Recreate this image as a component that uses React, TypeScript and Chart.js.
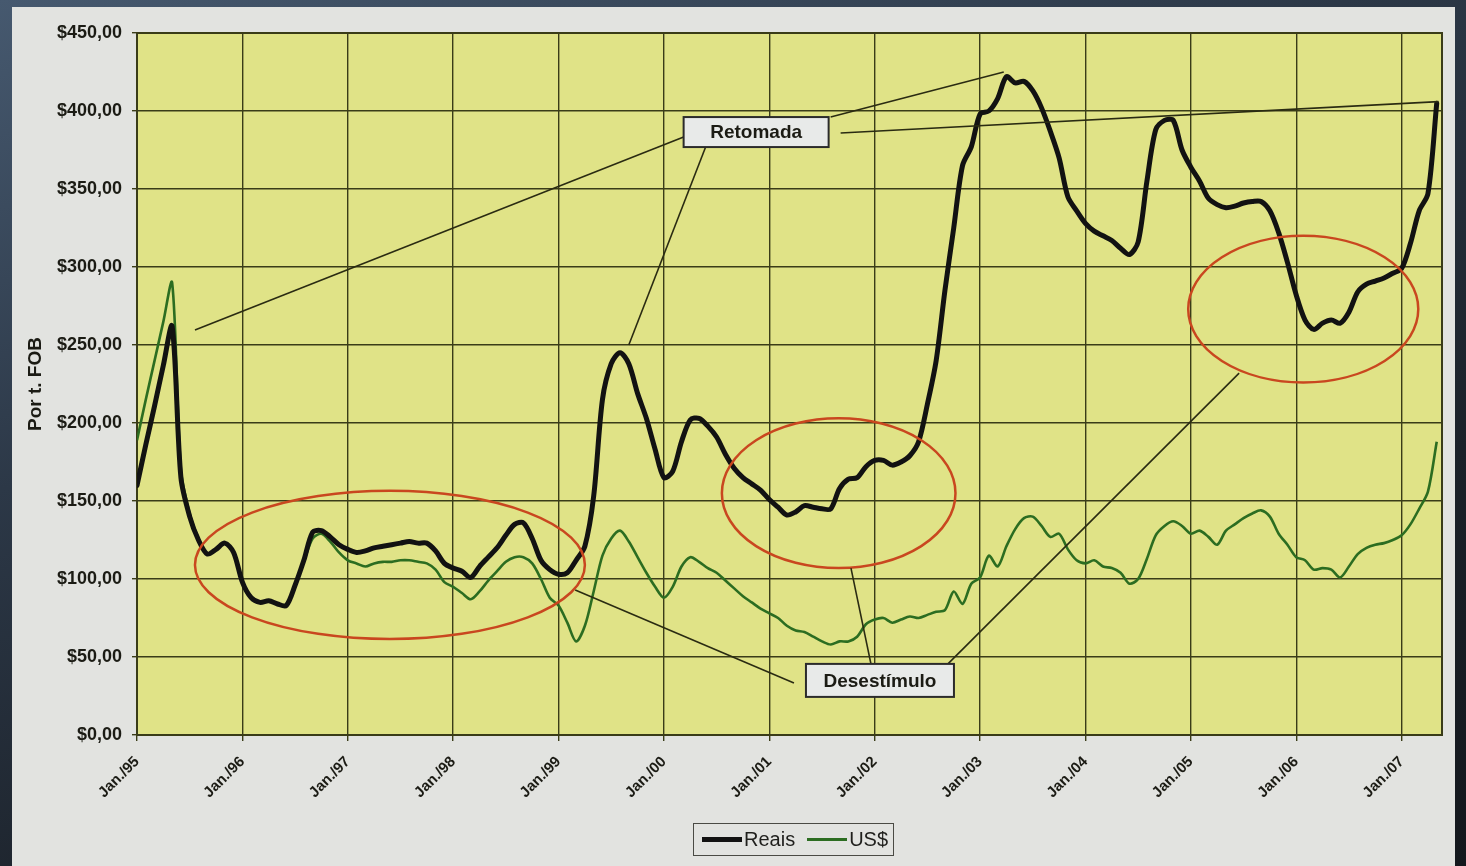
import React, { useEffect, useRef } from "react";
import { Chart, registerables } from "chart.js";

Chart.register(...registerables);

// Monthly FOB price per tonne, Jan/95 .. May/07 (index 0 = Jan/95)
const reaisValues = [
  160, 186, 211, 237, 262, 165, 140, 125, 116, 119, 123, 117, // 1995
  98, 88, 85, 86, 84, 83, 96, 112, 130, 131, 127, 122, // 1996
  119, 117, 118, 120, 121, 122, 123, 124, 123, 123, 118, 110, // 1997
  107, 105, 101, 108, 114, 120, 128, 135, 136, 126, 112, 106, // 1998
  103, 104, 112, 121, 153, 215, 238, 245, 238, 219, 203, 183, // 1999
  165, 169, 188, 202, 203, 198, 191, 180, 171, 165, 161, 157, // 2000
  151, 146, 141, 143, 147, 146, 145, 145, 158, 164, 165, 172, // 2001
  176, 176, 173, 175, 179, 188, 212, 240, 285, 325, 365, 377, // 2002
  398, 400, 408, 422, 418, 419, 413, 402, 387, 370, 345, 336, // 2003
  328, 323, 320, 317, 312, 308, 316, 355, 388, 394, 394, 375, // 2004
  364, 355, 344, 340, 338, 339, 341, 342, 342, 336, 322, 303, // 2005
  282, 266, 260, 264, 266, 264, 271, 284, 289, 291, 293, 296, // 2006
  299, 315, 336, 347, 405, // 2007
];

const usdValues = [
  189, 215, 240, 265, 290, 170, 142, 126, 116, 119, 123, 117, // 1995
  98, 88, 85, 86, 84, 83, 95, 111, 126, 129, 124, 117, // 1996
  112, 110, 108, 110, 111, 111, 112, 112, 111, 110, 106, 98, // 1997
  95, 91, 87, 92, 99, 105, 111, 114, 114, 110, 100, 88, // 1998
  83, 72, 60, 70, 92, 115, 126, 131, 124, 114, 104, 95, // 1999
  88, 95, 108, 114, 111, 107, 104, 99, 94, 89, 85, 81, // 2000
  78, 75, 70, 67, 66, 63, 60, 58, 60, 60, 63, 71, // 2001
  74, 75, 72, 74, 76, 75, 77, 79, 80, 92, 84, 97, // 2002
  101, 115, 108, 121, 132, 139, 140, 134, 127, 129, 119, 112, // 2003
  110, 112, 108, 107, 104, 97, 100, 113, 128, 134, 137, 134, // 2004
  129, 131, 127, 122, 131, 135, 139, 142, 144, 140, 129, 122, // 2005
  114, 112, 106, 107, 106, 101, 108, 116, 120, 122, 123, 125, // 2006
  128, 135, 145, 156, 188, // 2007
];

const seriesNames = ["Reais", "US$"];
const xTickLabels = [
  "Jan./95", "Jan./96", "Jan./97", "Jan./98", "Jan./99", "Jan./00", "Jan./01",
  "Jan./02", "Jan./03", "Jan./04", "Jan./05", "Jan./06", "Jan./07",
];

const FONT = "'Liberation Sans', Arial, sans-serif";
const INK = "#1b1b14";
const GRID = "#3a3c18";
const REAIS_COLOR = "#121212";
const USD_COLOR = "#2c6d21";
const RING_COLOR = "#c9471f";

// Highlight rings: centre (month, value) and radii (months, value units)
const rings = [
  { cx: 28.8, cy: 109, rx: 22.2, ry: 47.5 },
  { cx: 79.9, cy: 155, rx: 13.3, ry: 48 },
  { cx: 132.8, cy: 273, rx: 13.1, ry: 47 },
];

// Callout boxes with leader lines; anchors are pixel offsets from the box centre
const callouts = [
  {
    text: "Retomada",
    at: [70.5, 386.5],
    w: 145,
    h: 30,
    leaders: [
      { from: [-72.5, 5], to: [6.6, 259.6] },
      { from: [-50.5, 15], to: [56, 250] },
      { from: [74.5, -15], to: [98.7, 425] },
      { from: [84.5, 1], to: [148.2, 406] },
    ],
  },
  {
    text: "Desestímulo",
    at: [84.6, 35],
    w: 148,
    h: 33,
    leaders: [
      { from: [-86, 2.5], to: [49.9, 93] },
      { from: [-9, -16.5], to: [81.3, 107] },
      { from: [68, -16.5], to: [125.5, 232] },
    ],
  },
];

const plotFrame = {
  id: "plotFrame",
  beforeDraw(chart: any) {
    const { ctx, chartArea } = chart;
    ctx.save();
    ctx.fillStyle = "#e0e387";
    ctx.fillRect(chartArea.left, chartArea.top, chartArea.width, chartArea.height);
    ctx.restore();
  },
  beforeDatasetsDraw(chart: any) {
    const { ctx, chartArea } = chart;
    ctx.save();
    ctx.strokeStyle = GRID;
    ctx.lineWidth = 2;
    ctx.strokeRect(chartArea.left, chartArea.top, chartArea.width, chartArea.height);
    ctx.restore();
  },
};

const annotations = {
  id: "annotations",
  afterDatasetsDraw(chart: any) {
    const { ctx } = chart;
    const xs = chart.scales.x;
    const ys = chart.scales.y;
    const px = (m: number) => xs.getPixelForValue(m);
    const py = (v: number) => ys.getPixelForValue(v);
    ctx.save();

    ctx.strokeStyle = RING_COLOR;
    ctx.lineWidth = 2.5;
    rings.forEach((r) => {
      const cx = px(r.cx);
      const cy = py(r.cy);
      ctx.beginPath();
      ctx.ellipse(cx, cy, px(r.cx + r.rx) - cx, cy - py(r.cy + r.ry), 0, 0, Math.PI * 2);
      ctx.stroke();
    });

    callouts.forEach((c) => {
      const bx = px(c.at[0]);
      const by = py(c.at[1]);
      ctx.strokeStyle = "#2a2b12";
      ctx.lineWidth = 1.6;
      c.leaders.forEach((l) => {
        ctx.beginPath();
        ctx.moveTo(bx + l.from[0], by + l.from[1]);
        ctx.lineTo(px(l.to[0]), py(l.to[1]));
        ctx.stroke();
      });
      ctx.fillStyle = "#e8eae9";
      ctx.fillRect(bx - c.w / 2, by - c.h / 2, c.w, c.h);
      ctx.strokeStyle = "#2b2b2b";
      ctx.lineWidth = 2;
      ctx.strokeRect(bx - c.w / 2, by - c.h / 2, c.w, c.h);
      ctx.fillStyle = INK;
      ctx.font = `bold 19px ${FONT}`;
      ctx.textAlign = "center";
      ctx.textBaseline = "middle";
      ctx.fillText(c.text, bx, by + 1);
    });
    ctx.restore();
  },
};

export default function App() {
  const canvasRef = useRef<HTMLCanvasElement | null>(null);

  useEffect(() => {
    if (!canvasRef.current) return;
    const chart = new Chart(canvasRef.current, {
      type: "line",
      data: {
        datasets: [
          {
            label: seriesNames[0],
            data: reaisValues.map((v, i) => ({ x: i, y: v })),
            borderColor: REAIS_COLOR,
            borderWidth: 5,
            tension: 0.3,
            pointRadius: 0,
            borderJoinStyle: "round",
            borderCapStyle: "round",
          },
          {
            label: seriesNames[1],
            data: usdValues.map((v, i) => ({ x: i, y: v })),
            borderColor: USD_COLOR,
            borderWidth: 2.6,
            tension: 0.3,
            pointRadius: 0,
            borderJoinStyle: "round",
          },
        ],
      },
      options: {
        responsive: false,
        animation: false,
        layout: { padding: { left: 0, top: 33, right: 24, bottom: 0 } },
        plugins: {
          legend: { display: false },
          tooltip: { enabled: false },
        },
        scales: {
          x: {
            type: "linear",
            min: 0,
            max: 148.6,
            afterBuildTicks: (scale: any) => {
              scale.ticks = xTickLabels.map((_, i) => ({ value: i * 12 }));
            },
            afterFit: (scale: any) => {
              scale.height = 131;
            },
            grid: { color: GRID, lineWidth: 1.4, tickLength: 6, tickColor: GRID },
            border: { display: true, color: GRID, width: 2 },
            ticks: {
              autoSkip: false,
              maxRotation: 45,
              minRotation: 45,
              padding: 12,
              color: INK,
              font: { family: FONT, size: 15, weight: "bold" },
              callback: (value: any) => xTickLabels[Math.round(Number(value) / 12)] ?? "",
            },
          },
          y: {
            min: 0,
            max: 450,
            afterFit: (scale: any) => {
              scale.width = 137;
            },
            grid: { color: GRID, lineWidth: 1.4, tickLength: 5, tickColor: GRID },
            border: { display: true, color: GRID, width: 2 },
            ticks: {
              stepSize: 50,
              padding: 10,
              color: INK,
              font: { family: FONT, size: 18, weight: "bold" },
              callback: (value: any) => "$" + Number(value).toFixed(2).replace(".", ","),
            },
            title: {
              display: true,
              text: "Por t. FOB",
              color: INK,
              font: { family: FONT, size: 19, weight: "bold" },
              padding: { top: 24, bottom: 0 },
            },
          },
        },
      },
      plugins: [plotFrame, annotations],
    } as any);
    return () => chart.destroy();
  }, []);

  const legendItems = [
    { name: seriesNames[0], color: REAIS_COLOR, width: 5 },
    { name: seriesNames[1], color: USD_COLOR, width: 3 },
  ];

  return (
    <div
      style={{
        position: "fixed",
        left: 0,
        top: 0,
        width: 1466,
        height: 866,
        overflow: "hidden",
        background: "linear-gradient(160deg, #46596f 0%, #2c3847 35%, #1b2129 70%, #14181d 100%)",
      }}
    >
      <div
        style={{
          position: "absolute",
          left: 12,
          top: 7,
          width: 1443,
          height: 859,
          background: "#e2e3e0",
        }}
      />
      <canvas
        ref={canvasRef}
        width={1466}
        height={866}
        style={{ position: "absolute", left: 0, top: 0, width: 1466, height: 866 }}
      />
      <div
        style={{
          position: "absolute",
          left: 693,
          top: 823,
          width: 201,
          height: 33,
          boxSizing: "border-box",
          border: "1.5px solid #4a4a44",
          display: "flex",
          alignItems: "center",
          paddingLeft: 8,
          fontFamily: FONT,
          fontSize: 20,
          color: "#1f1f1c",
        }}
      >
        {legendItems.map((it, i) => (
          <div key={it.name} style={{ display: "flex", alignItems: "center", marginLeft: i ? 12 : 0 }}>
            <span
              style={{
                display: "inline-block",
                width: 40,
                height: it.width,
                background: it.color,
                marginRight: 2,
              }}
            />
            <span>{it.name}</span>
          </div>
        ))}
      </div>
    </div>
  );
}
